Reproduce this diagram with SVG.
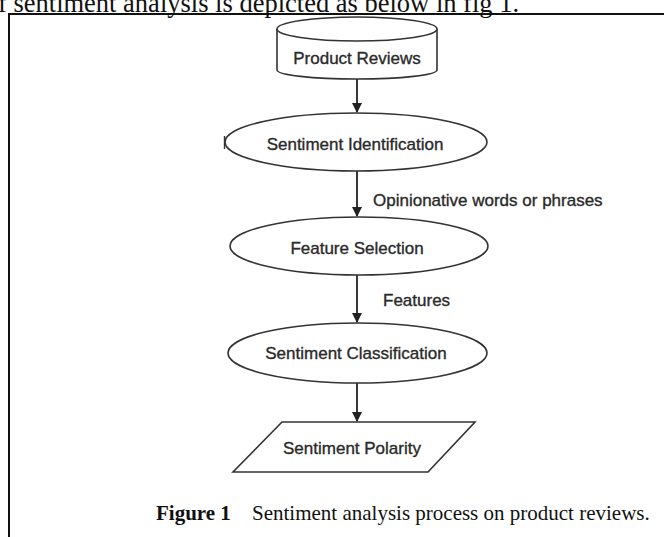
<svg xmlns="http://www.w3.org/2000/svg" width="664" height="537" viewBox="0 0 664 537">
<defs>
<style>
.shape{fill:#fff;stroke:#333;stroke-width:1.6}
.lbl{font-family:"Liberation Sans",Arial,sans-serif;font-size:17px;fill:#2a2a2a;stroke:#2a2a2a;stroke-width:0.35}
.c{text-anchor:middle}
.edge{stroke:#222;stroke-width:1.8;fill:none}
.serif{font-family:"Liberation Serif","Times New Roman",serif;fill:#111}
</style>
<marker id="ah" viewBox="0 0 10 10" refX="9" refY="5" markerWidth="10" markerHeight="10" markerUnits="userSpaceOnUse" orient="auto">
<path d="M0,0 L10,5 L0,10 Z" fill="#222"/>
</marker>
</defs>
<rect width="664" height="537" fill="#fff"/>
<text class="serif" x="-2" y="11.5" font-size="26.5">f sentiment analysis is depicted as below in fig 1.</text>
<g id="frame">
<line x1="8" y1="14" x2="664" y2="14" stroke="#111" stroke-width="2"/>
<line x1="9" y1="13" x2="9" y2="537" stroke="#111" stroke-width="2"/>
</g>
<g id="connectors">
<line class="edge" x1="357" y1="79" x2="357" y2="112" marker-end="url(#ah)"/>
<line class="edge" x1="357" y1="171" x2="357" y2="216" marker-end="url(#ah)"/>
<line class="edge" x1="357" y1="275" x2="357" y2="322" marker-end="url(#ah)"/>
<line class="edge" x1="357" y1="383" x2="357" y2="421" marker-end="url(#ah)"/>
<text class="lbl" x="373" y="206">Opinionative words or phrases</text>
<text class="lbl" x="383" y="306">Features</text>
</g>
<g id="product-reviews">
<path class="shape" d="M277,29 L277,70 A80,9 0 0 0 437,70 L437,29"/>
<ellipse class="shape" cx="357" cy="29" rx="80" ry="12"/>
<text class="lbl c" x="357" y="64">Product Reviews</text>
</g>
<g id="sentiment-identification">
<ellipse class="shape" cx="356" cy="142" rx="131" ry="29"/>
<line x1="224.5" y1="136" x2="224.5" y2="149" stroke="#333" stroke-width="1.4"/>
<text class="lbl c" x="355" y="150">Sentiment Identification</text>
</g>
<g id="feature-selection">
<ellipse class="shape" cx="359" cy="246" rx="129" ry="29"/>
<text class="lbl c" x="357" y="254">Feature Selection</text>
</g>
<g id="sentiment-classification">
<ellipse class="shape" cx="357.5" cy="353" rx="129.5" ry="30"/>
<text class="lbl c" x="356" y="359">Sentiment Classification</text>
</g>
<g id="sentiment-polarity">
<polygon class="shape" points="282,422 475,422 428,472 233,472"/>
<text class="lbl c" x="352" y="454">Sentiment Polarity</text>
</g>
<g id="caption">
<text class="serif" x="156" y="520" font-size="21" font-weight="bold">Figure 1</text>
<text class="serif" x="252" y="520" font-size="21" fill="#333">Sentiment analysis process on product reviews.</text>
</g>
</svg>
